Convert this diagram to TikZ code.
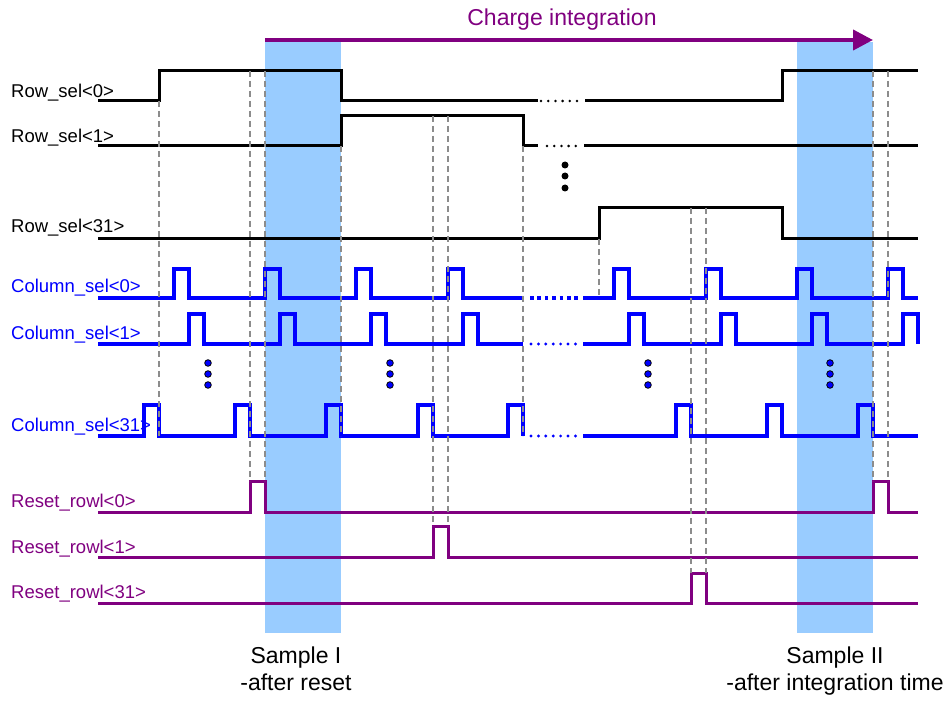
\documentclass[tikz,border=0pt]{standalone}
\usepackage{fontspec}
\setmainfont{Liberation Sans}
\usetikzlibrary{arrows.meta}
\definecolor{sigpurple}{HTML}{800080}
\definecolor{sigblue}{HTML}{0000FF}
\definecolor{bandblue}{HTML}{99CCFF}
\definecolor{guidegray}{HTML}{8C8C8C}
\newcommand\mylabelfont{\fontsize{18.5}{22}\selectfont}
\newcommand\mytitlefont{\fontsize{23}{27}\selectfont}
\begin{document}
\begin{tikzpicture}[x=1pt,y=-1pt,
  rowsig/.style={draw=black,line width=3pt},
  colsig/.style={draw=sigblue,line width=3.2pt},
  rstsig/.style={draw=sigpurple,line width=3pt},
  rowdots/.style={draw=black,line width=2.8pt,line cap=round,dash pattern=on 0pt off 7.2pt},
  coldots/.style={draw=sigblue,line width=3.2pt,line cap=round,dash pattern=on 0pt off 7.4pt},
  colsquares/.style={draw=sigblue,line width=4pt,dash pattern=on 3.6pt off 3.8pt},
  guide/.style={draw=guidegray,line width=1.3pt,dash pattern=on 6pt off 4pt},
  band/.style={fill=bandblue},
  lbl/.style={anchor=base west,inner sep=0pt,font=\mylabelfont},
  captxt/.style={anchor=base,inner sep=0pt,font=\mytitlefont},
  vdot/.style={fill=black},
  bdot/.style={fill=sigblue,draw=black,line width=0.8pt}]
\useasboundingbox (0,0) rectangle (948,703);
% sampling bands
\fill[band] (265,42) rectangle (341,633);
\fill[band] (797,42) rectangle (873,633);
% charge integration arrow
\draw[draw=sigpurple,line width=4pt,-{Triangle[length=20pt,width=20pt]}] (265,40) -- (873,40);
\node[captxt,text=sigpurple] (chg) at (562,26) {Charge integration};
% row select signals
\draw[rowsig] (98,101) -- (159,101) -- (159,71) -- (341,71) -- (341,101) -- (538,101);
\draw[rowdots] (541,101) -- (584,101);
\draw[rowsig] (585,101) -- (782,101) -- (782,71) -- (918,71);
\draw[rowsig] (98,146) -- (341,146) -- (341,116) -- (523,116) -- (523,146) -- (538,146);
\draw[rowdots] (547,146) -- (577,146);
\draw[rowsig] (584,146) -- (918,146);
\draw[rowsig] (98,239) -- (599,239) -- (599,208) -- (782,208) -- (782,239) -- (918,239);
\foreach \y in {165,176,188} \fill[vdot] (565,\y) circle (3.5pt);
% column select signals
\draw[colsig] (98,298) \foreach \t in {174,265,356,448}{ -- (\t,298) -- (\t,269) -- (\t+15,269) -- (\t+15,298)} -- (523,298);
\draw[colsquares] (530,298) -- (580,298);
\draw[colsig] (583,298) \foreach \t in {614,706,797,888}{ -- (\t,298) -- (\t,269) -- (\t+15,269) -- (\t+15,298)} -- (918,298);
\draw[colsig] (98,344) \foreach \t in {189,280,371,463}{ -- (\t,344) -- (\t,314) -- (\t+15,314) -- (\t+15,344)} -- (523,344);
\draw[coldots] (531,344) -- (576,344);
\draw[colsig] (583,344) \foreach \t in {629,721,812}{ -- (\t,344) -- (\t,314) -- (\t+15,314) -- (\t+15,344)} -- (903,344) -- (903,314) -- (918,314) -- (918,344);
\draw[colsig] (98,436) \foreach \t in {144,235,326,418,508}{ -- (\t,436) -- (\t,405) -- (\t+15,405) -- (\t+15,436)};
\draw[coldots] (531,436) -- (576,436);
\draw[colsig] (583,436) \foreach \t in {676,767,858}{ -- (\t,436) -- (\t,405) -- (\t+15,405) -- (\t+15,436)} -- (918,436);
\foreach \x in {208,390,648,830}{
  \foreach \y in {363,374,385} \filldraw[bdot] (\x,\y) circle (3.3pt);
}
% reset signals
\draw[rstsig] (98,512) -- (250,512) -- (250,481) -- (265,481) -- (265,512) -- (873,512) -- (873,481) -- (888,481) -- (888,512) -- (918,512);
\draw[rstsig] (98,557) -- (433,557) -- (433,526) -- (448,526) -- (448,557) -- (918,557);
\draw[rstsig] (98,603) -- (691,603) -- (691,573) -- (706,573) -- (706,603) -- (918,603);
% timing guides
\draw[guide] (159,101) -- (159,436);
\draw[guide] (250,71) -- (250,481);
\draw[guide] (265,71) -- (265,481);
\draw[guide] (341,146) -- (341,436);
\draw[guide] (433,116) -- (433,526);
\draw[guide] (448,116) -- (448,526);
\draw[guide] (523,146) -- (523,436);
\draw[guide] (599,239) -- (599,298);
\draw[guide] (691,208) -- (691,573);
\draw[guide] (706,208) -- (706,573);
\draw[guide] (873,71) -- (873,481);
\draw[guide] (888,71) -- (888,481);
% labels
\node[lbl] (r0) at (11,98) {Row\_sel<0>};
\node[lbl] (r1) at (11,143) {Row\_sel<1>};
\node[lbl] (r31) at (11,233) {Row\_sel<31>};
\node[lbl,text=sigblue] (c0) at (11,293) {Column\_sel<0>};
\node[lbl,text=sigblue] (c1) at (11,340) {Column\_sel<1>};
\node[lbl,text=sigblue] (c31) at (11,431) {Column\_sel<31>};
\node[lbl,text=sigpurple] (s0) at (11,507) {Reset\_rowl<0>};
\node[lbl,text=sigpurple] (s1) at (11,553) {Reset\_rowl<1>};
\node[lbl,text=sigpurple] (s31) at (11,598) {Reset\_rowl<31>};
% sample captions
\node[captxt] (sa1) at (296,663) {Sample I};
\node[captxt] (sa2) at (296,690) {-after reset};
\node[captxt] (sb1) at (835,663) {Sample II};
\node[captxt] (sb2) at (835,690) {-after integration time};
\end{tikzpicture}
\end{document}
